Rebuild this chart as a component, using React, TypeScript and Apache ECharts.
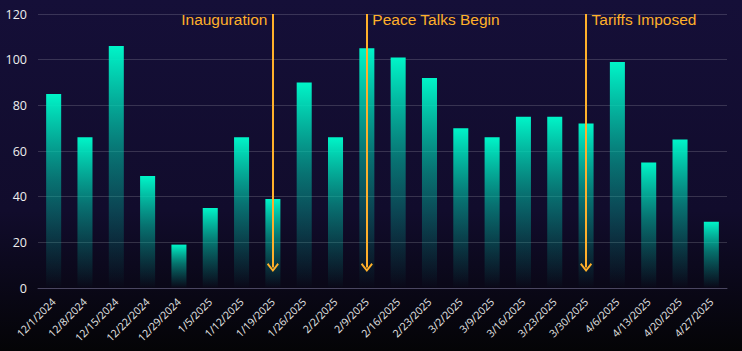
import React, { useEffect, useRef } from "react";
import * as echarts from "echarts";

const categories = [
  "12/1/2024", "12/8/2024", "12/15/2024", "12/22/2024", "12/29/2024",
  "1/5/2025", "1/12/2025", "1/19/2025", "1/26/2025", "2/2/2025", "2/9/2025",
  "2/16/2025", "2/23/2025", "3/2/2025", "3/9/2025", "3/16/2025", "3/23/2025",
  "3/30/2025", "4/6/2025", "4/13/2025", "4/20/2025", "4/27/2025",
];
const values = [85, 66, 106, 49, 19, 35, 66, 39, 90, 66, 105, 101, 92, 70, 66, 75, 75, 72, 99, 55, 65, 29];
const yTicks = { min: 0, max: 120, interval: 20 };
const events = [
  { date: "1/19/2025", label: "Inauguration", side: "left" },
  { date: "2/9/2025", label: "Peace Talks Begin", side: "right" },
  { date: "3/30/2025", label: "Tariffs Imposed", side: "right" },
];
const eventTop = 120;
const eventBottom = 9;
const eventLabelY = 117.6;

const ORANGE = "#ffb02a";
const CHEVRON = "path://M6,0 L12,7.5 L10.6,9 L6,3 L1.4,9 L0,7.5 Z";

export default function App() {
  const ref = useRef<HTMLDivElement>(null);
  useEffect(() => {
    document.body.style.margin = "0";
    const chart = echarts.init(ref.current!, null, { renderer: "svg" });
    chart.setOption({
      animation: false,
      backgroundColor: new echarts.graphic.LinearGradient(0, 0, 0, 1, [
        { offset: 0, color: "#150f38" },
        { offset: 0.6, color: "#110c2c" },
        { offset: 1, color: "#040406" },
      ]),
      grid: { left: 38, right: 15, top: 14, bottom: 63, containLabel: false },
      xAxis: {
        type: "category",
        data: categories,
        axisLine: { lineStyle: { color: "#4a4660", width: 1 } },
        axisTick: { show: false },
        axisLabel: {
          rotate: 45,
          color: "#e6e6e6",
          fontSize: 10.5,
          fontFamily: "Open Sans",
          interval: 0,
          margin: 12,
        },
      },
      yAxis: {
        type: "value",
        min: yTicks.min,
        max: yTicks.max,
        interval: yTicks.interval,
        axisLine: { show: false },
        axisTick: { show: false },
        splitLine: { lineStyle: { color: "rgba(255,255,255,0.16)", width: 1 } },
        axisLabel: { color: "#eeeeee", fontSize: 12.5, fontFamily: "Open Sans", margin: 11 },
      },
      series: [
        {
          type: "bar",
          data: values,
          barWidth: "48%",
          itemStyle: {
            color: new echarts.graphic.LinearGradient(0, 0, 0, 1, [
              { offset: 0, color: "rgba(0,245,200,1)" },
              { offset: 0.45, color: "rgba(0,195,168,0.55)" },
              { offset: 0.8, color: "rgba(0,180,160,0.2)" },
              { offset: 1, color: "rgba(0,180,160,0)" },
            ]),
          },
          markLine: {
            silent: true,
            symbol: ["none", CHEVRON],
            symbolSize: [12, 9],
            lineStyle: { color: ORANGE, width: 2, type: "solid" },
            label: { show: false },
            data: events.map((e) => [
              { coord: [e.date, eventTop] },
              { coord: [e.date, eventBottom] },
            ]),
          },
          markPoint: {
            silent: true,
            symbol: "circle",
            symbolSize: 1,
            itemStyle: { color: "rgba(0,0,0,0)" },
            data: events.map((e) => ({
              coord: [e.date, eventLabelY],
              label: {
                show: true,
                formatter: e.label,
                position: e.side,
                distance: 5,
                color: ORANGE,
                fontSize: 15.5,
                fontFamily: "Liberation Sans",
              },
            })),
          },
        },
      ],
    });
    return () => chart.dispose();
  }, []);
  return <div ref={ref} style={{ width: 742, height: 351 }} />;
}
